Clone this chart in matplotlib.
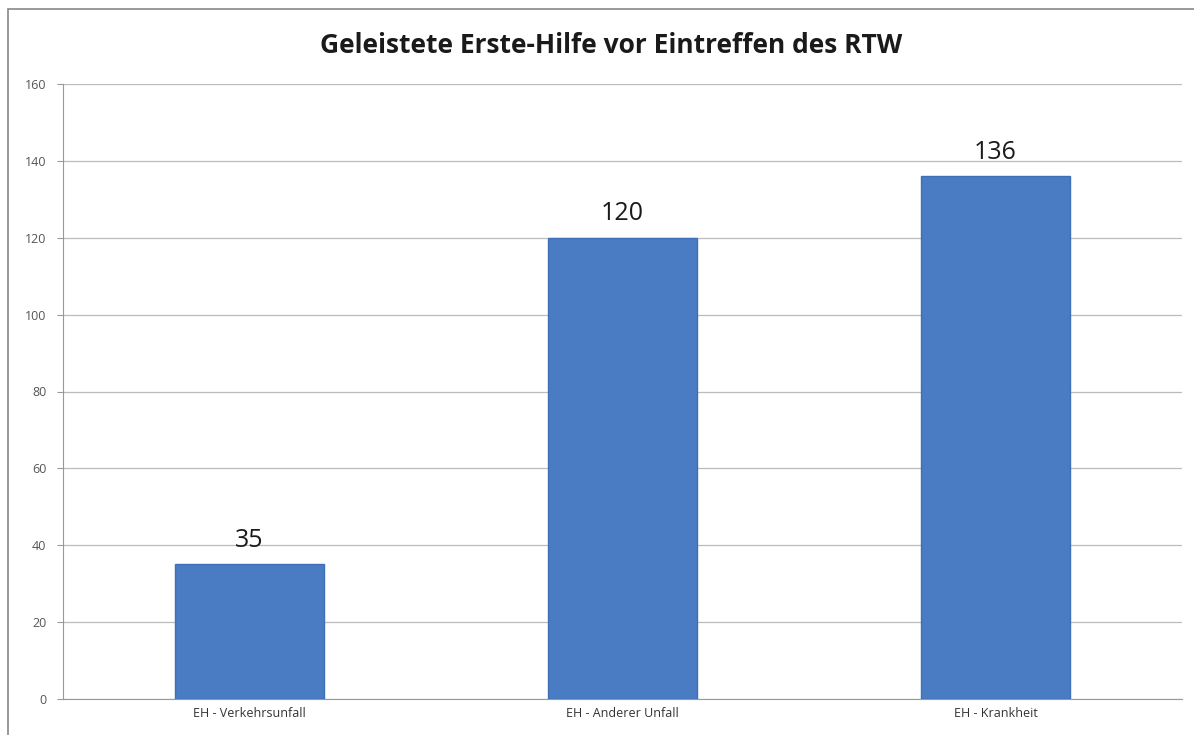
import matplotlib.pyplot as plt
from matplotlib.patches import Rectangle

# Chart data
categories = ["EH - Verkehrsunfall", "EH - Anderer Unfall", "EH - Krankheit"]
values = [35, 120, 136]
yticks = [0, 20, 40, 60, 80, 100, 120, 140, 160]

plt.rcParams['font.family'] = ['Open Sans', 'DejaVu Sans']

fig = plt.figure(figsize=(11.94, 7.35), dpi=100)
ax = fig.add_axes([63 / 1194, 36 / 735, 1119 / 1194, 615 / 735])

x = range(len(categories))
ax.bar(x, values, width=0.4, color='#4a7cc3', edgecolor='#3f6fb5', linewidth=1, zorder=3)

for xi, v in zip(x, values):
    ax.text(xi, v + 3, str(v), ha='center', va='bottom', fontsize=18, color='#1a1a1a', zorder=4)

ax.set_xlim(-0.5, len(categories) - 0.5)
ax.set_ylim(0, 160)
ax.set_yticks(yticks)
ax.set_yticklabels([str(t) for t in yticks], fontsize=9, color='#555555')
ax.set_xticks(list(x))
ax.set_xticklabels(categories, fontsize=9, color='#333333')
ax.tick_params(axis='x', length=0, pad=6)
ax.tick_params(axis='y', length=4, color='#999999', pad=8)

ax.grid(axis='y', color='#bbbbbb', linewidth=0.9, zorder=0)
for side in ['top', 'right']:
    ax.spines[side].set_visible(False)
ax.spines['left'].set_color('#999999')
ax.spines['bottom'].set_color('#999999')

fig.text(0.512, 0.938, "Geleistete Erste-Hilfe vor Eintreffen des RTW", ha='center', va='center',
         fontsize=19, fontweight='bold', color='#1a1a1a')

# outer chart border (left and top visible)
fig.patches.append(Rectangle((8 / 1194, -0.1), 1.2, 1 - 9 / 735 + 0.1, transform=fig.transFigure,
                             fill=False, edgecolor='#888888', linewidth=1.2))

fig.savefig("out.png", dpi=100)
